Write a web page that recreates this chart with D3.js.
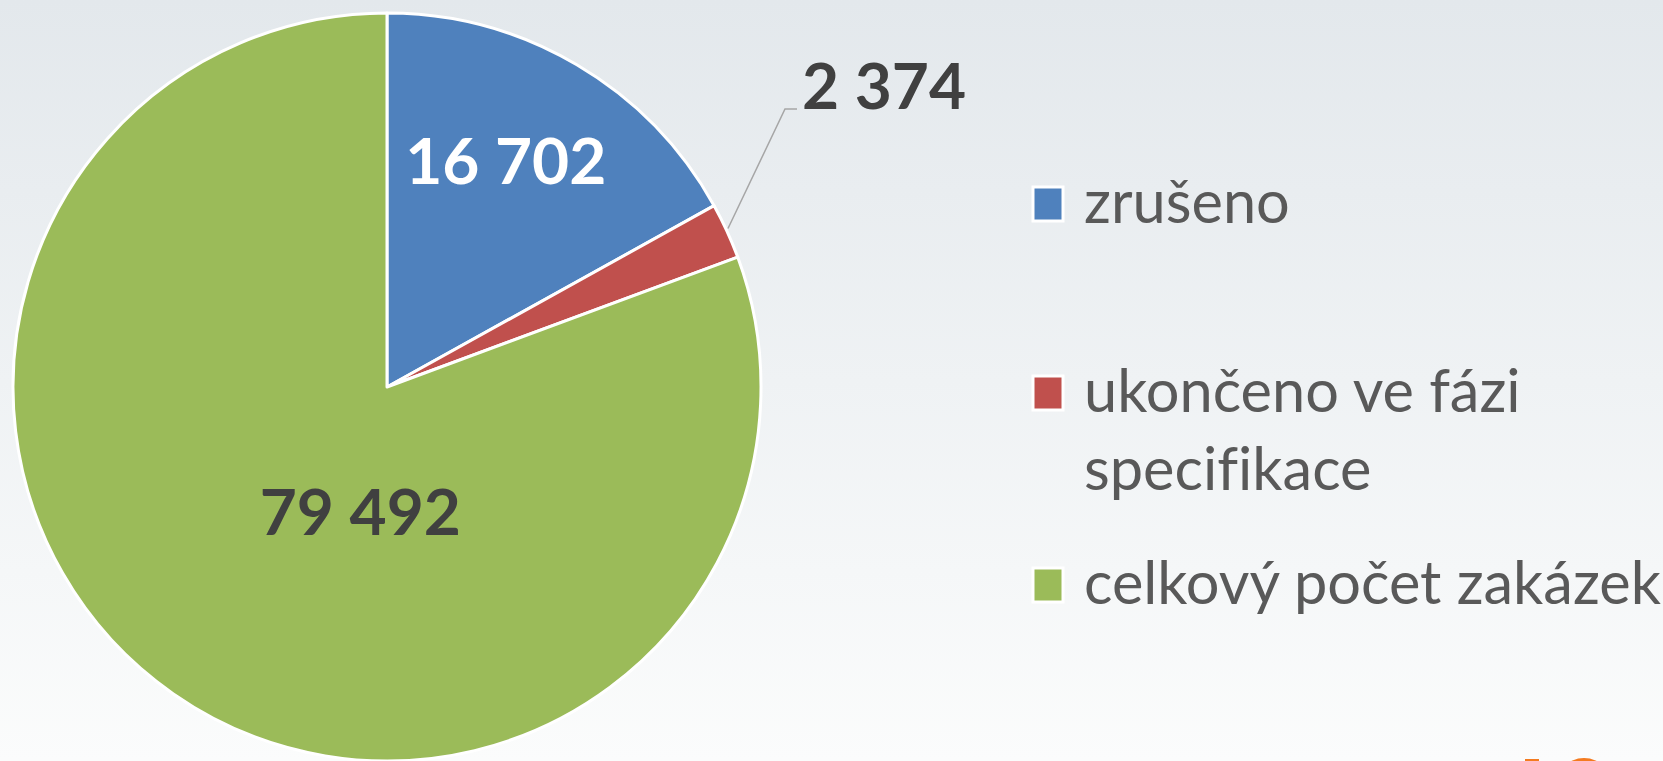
<!DOCTYPE html>
<html>
<head>
<meta charset="utf-8">
<script src="https://cdn.jsdelivr.net/npm/d3@7"></script>
<style>
  html, body { margin: 0; padding: 0; overflow: hidden; }
  svg { display: block; }
  text { font-variant-ligatures: none; }
</style>
</head>
<body>
<svg id="chart"></svg>
<script>
// Data
const categories = ["zrušeno", "ukončeno ve fázi specifikace", "celkový počet zakázek"];
const values = [16702, 2374, 79492];
const valueLabels = ["16 702", "2 374", "79 492"];
const legendLines = [["zrušeno"], ["ukončeno ve fázi", "specifikace"], ["celkový počet zakázek"]];
const colors = ["#4f81bd", "#c0504d", "#9bbb59"];

// Config
const width = 1663;
const height = 761;
const cx = 387;
const cy = 387;
const radius = 374;
const numSize = 64;

const svg = d3.select("#chart")
  .attr("width", width)
  .attr("height", height)
  .attr("viewBox", [0, 0, width, height]);

// Background gradient
const defs = svg.append("defs");
const bg = defs.append("linearGradient")
  .attr("id", "bg")
  .attr("x1", "0%").attr("x2", "0%")
  .attr("y1", "0%").attr("y2", "100%");
bg.append("stop").attr("offset", "0%").attr("stop-color", "#e3e8ec");
bg.append("stop").attr("offset", "100%").attr("stop-color", "#fbfcfc");

svg.append("rect")
  .attr("width", width)
  .attr("height", height)
  .attr("fill", "url(#bg)");

// Pie
const pieData = categories.map((c, i) => ({ cat: c, value: values[i], label: valueLabels[i], i }));
const pie = d3.pie().sort(null).value(d => d.value);
const arcs = pie(pieData);

const arc = d3.arc().innerRadius(0).outerRadius(radius);

const g = svg.append("g").attr("transform", `translate(${cx},${cy})`);

g.selectAll(".slice")
  .data(arcs)
  .join("path")
  .attr("class", "slice")
  .attr("d", arc)
  .attr("fill", d => colors[d.data.i])
  .attr("stroke", "#ffffff")
  .attr("stroke-width", 3)
  .attr("stroke-linejoin", "round");

// Data labels
const labelFont = "Lato, 'Open Sans', sans-serif";

// blue: inside, upper part of the slice
const blue = arcs[0];
const bluePos = d3.arc().innerRadius(255).outerRadius(255)
  .startAngle(blue.startAngle)
  .endAngle(blue.startAngle + (blue.endAngle - blue.startAngle) * 0.91)
  .centroid();
g.append("text")
  .attr("x", bluePos[0])
  .attr("y", bluePos[1])
  .attr("dy", "0.35em")
  .attr("text-anchor", "middle")
  .attr("font-family", labelFont)
  .attr("font-weight", 700)
  .attr("font-size", numSize)
  .attr("fill", "#ffffff")
  .text(blue.data.label);

// green: inside, near the centre
const green = arcs[2];
const greenPos = d3.arc().innerRadius(128).outerRadius(128)
  .startAngle(Math.PI + 0.05).endAngle(Math.PI + 0.37)
  .centroid();
g.append("text")
  .attr("x", greenPos[0])
  .attr("y", greenPos[1])
  .attr("dy", "0.35em")
  .attr("text-anchor", "middle")
  .attr("font-family", labelFont)
  .attr("font-weight", 700)
  .attr("font-size", numSize)
  .attr("fill", "#404040")
  .text(green.data.label);

// red: outside with leader line
const red = arcs[1];
const redEdge = d3.arc().innerRadius(radius + 2).outerRadius(radius + 2)
  .startAngle(red.startAngle)
  .endAngle(red.startAngle + (red.endAngle - red.startAngle) * 0.94)
  .centroid();
const elbow = [398, -278];
g.append("polyline")
  .attr("points", [redEdge, elbow, [elbow[0] + 12, elbow[1]]].map(p => p.join(",")).join(" "))
  .attr("fill", "none")
  .attr("stroke", "#a6a6a6")
  .attr("stroke-width", 1.5);

g.append("text")
  .attr("x", elbow[0] + 17)
  .attr("y", elbow[1])
  .attr("text-anchor", "start")
  .attr("font-family", labelFont)
  .attr("font-weight", 700)
  .attr("font-size", numSize)
  .attr("fill", "#404040")
  .text(red.data.label);

// Legend
const legendX = 1033;
const legendRows = [204, 393, 585];
const lineGap = 78;

const legend = svg.append("g");
legendLines.forEach((lines, i) => {
  legend.append("rect")
    .attr("x", legendX)
    .attr("y", legendRows[i] - 17)
    .attr("width", 30)
    .attr("height", 34)
    .attr("fill", colors[i])
    .attr("stroke", "#ffffff")
    .attr("stroke-width", 3);

  lines.forEach((t, j) => {
    legend.append("text")
      .attr("x", 1084)
      .attr("y", legendRows[i] + 19 + j * lineGap)
      .attr("font-family", labelFont)
      .attr("font-size", 59.5)
      .attr("fill", "#595959")
      .text(t);
  });
});

// Orange logo peeking in at the bottom
svg.append("rect")
  .attr("x", 1525).attr("y", 759)
  .attr("width", 14).attr("height", 10)
  .attr("fill", "#f47b20");
svg.append("ellipse")
  .attr("cx", 1584).attr("cy", 790)
  .attr("rx", 30).attr("ry", 32)
  .attr("fill", "#f47b20");
</script>
</body>
</html>
